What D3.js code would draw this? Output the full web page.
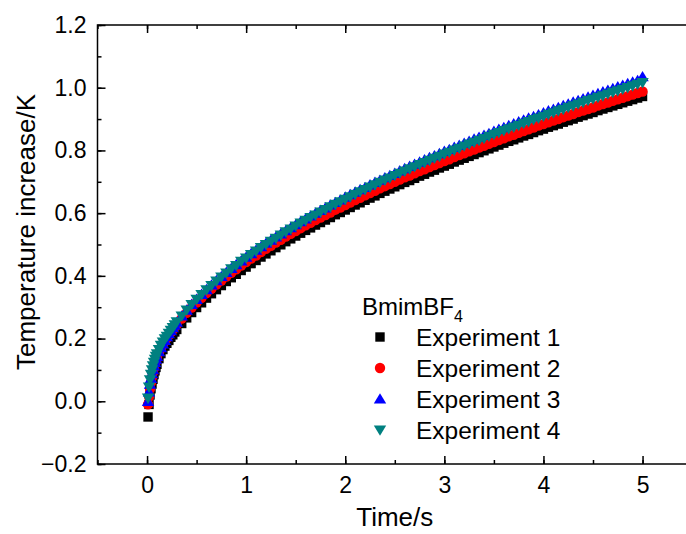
<!DOCTYPE html>
<html>
<head>
<meta charset="utf-8">
<script src="https://cdn.jsdelivr.net/npm/d3@7"></script>
<style>
  body { margin: 0; background: #fff; }
  text { font-family: "Liberation Sans", Arial, sans-serif; fill: #000; }
</style>
</head>
<body>
<div id="chart"></div>
<script>
// time axis (s)
var times = [0.01, 0.02, 0.03, 0.04, 0.05, 0.06, 0.07, 0.08, 0.09, 0.10,
  0.12, 0.14, 0.16, 0.18, 0.20, 0.22, 0.24, 0.26, 0.28, 0.30,
  0.35, 0.40, 0.45, 0.50, 0.55, 0.60, 0.65, 0.70, 0.75, 0.80, 0.85, 0.90, 0.95, 1.00,
  1.05, 1.10, 1.15, 1.20, 1.25, 1.30, 1.35, 1.40, 1.45, 1.50, 1.55, 1.60, 1.65, 1.70, 1.75, 1.80, 1.85, 1.90, 1.95, 2.00,
  2.05, 2.10, 2.15, 2.20, 2.25, 2.30, 2.35, 2.40, 2.45, 2.50, 2.55, 2.60, 2.65, 2.70, 2.75, 2.80, 2.85, 2.90, 2.95, 3.00,
  3.05, 3.10, 3.15, 3.20, 3.25, 3.30, 3.35, 3.40, 3.45, 3.50, 3.55, 3.60, 3.65, 3.70, 3.75, 3.80, 3.85, 3.90, 3.95, 4.00,
  4.05, 4.10, 4.15, 4.20, 4.25, 4.30, 4.35, 4.40, 4.45, 4.50, 4.55, 4.60, 4.65, 4.70, 4.75, 4.80, 4.85, 4.90, 4.95, 5.00];

var exp1 = [-0.05, -0.01, 0.02, 0.04, 0.055, 0.07, 0.085, 0.097, 0.108, 0.118,
  0.136, 0.152, 0.165, 0.176, 0.185, 0.194, 0.204, 0.212, 0.221, 0.229,
  0.248, 0.266, 0.283, 0.299, 0.314, 0.329, 0.343, 0.356, 0.369, 0.382, 0.394, 0.405, 0.417, 0.428,
  0.439, 0.449, 0.460, 0.470, 0.480, 0.490, 0.499, 0.509, 0.518, 0.527, 0.536, 0.545, 0.553, 0.562, 0.570, 0.578, 0.586, 0.595, 0.602, 0.610,
  0.618, 0.626, 0.633, 0.641, 0.648, 0.655, 0.663, 0.670, 0.677, 0.684, 0.691, 0.698, 0.704, 0.711, 0.718, 0.724, 0.731, 0.737, 0.744, 0.750,
  0.756, 0.763, 0.769, 0.775, 0.781, 0.787, 0.793, 0.799, 0.805, 0.811, 0.817, 0.823, 0.829, 0.834, 0.840, 0.846, 0.851, 0.857, 0.863, 0.868,
  0.874, 0.879, 0.884, 0.890, 0.895, 0.900, 0.906, 0.911, 0.916, 0.921, 0.927, 0.932, 0.937, 0.942, 0.947, 0.952, 0.957, 0.962, 0.967, 0.972];

var exp2 = [-0.01, 0.015, 0.04, 0.06, 0.077, 0.092, 0.105, 0.117, 0.128, 0.138,
  0.156, 0.17, 0.182, 0.191, 0.201, 0.210, 0.220, 0.228, 0.237, 0.245,
  0.264, 0.282, 0.299, 0.315, 0.330, 0.345, 0.359, 0.372, 0.385, 0.398, 0.410, 0.421, 0.433, 0.444,
  0.455, 0.465, 0.476, 0.486, 0.496, 0.506, 0.515, 0.525, 0.534, 0.543, 0.552, 0.561, 0.569, 0.578, 0.586, 0.594, 0.602, 0.611, 0.618, 0.626,
  0.634, 0.642, 0.649, 0.657, 0.664, 0.671, 0.679, 0.686, 0.693, 0.700, 0.707, 0.714, 0.720, 0.727, 0.734, 0.740, 0.747, 0.753, 0.760, 0.766,
  0.772, 0.779, 0.785, 0.791, 0.797, 0.803, 0.809, 0.815, 0.821, 0.827, 0.833, 0.839, 0.845, 0.850, 0.856, 0.862, 0.867, 0.873, 0.879, 0.884,
  0.890, 0.895, 0.900, 0.906, 0.911, 0.916, 0.922, 0.927, 0.932, 0.937, 0.943, 0.948, 0.953, 0.958, 0.963, 0.968, 0.973, 0.978, 0.983, 0.988];

var exp3 = [0.0, 0.03, 0.055, 0.073, 0.088, 0.101, 0.113, 0.124, 0.134, 0.143,
  0.158, 0.171, 0.183, 0.194, 0.206, 0.216, 0.225, 0.235, 0.243, 0.252,
  0.272, 0.291, 0.309, 0.325, 0.341, 0.356, 0.371, 0.385, 0.398, 0.411, 0.424, 0.436, 0.448, 0.460,
  0.471, 0.482, 0.493, 0.504, 0.514, 0.524, 0.534, 0.544, 0.554, 0.563, 0.573, 0.582, 0.591, 0.600, 0.609, 0.617, 0.626, 0.634, 0.642, 0.651,
  0.659, 0.667, 0.675, 0.682, 0.690, 0.698, 0.705, 0.713, 0.720, 0.727, 0.735, 0.742, 0.749, 0.756, 0.763, 0.770, 0.777, 0.783, 0.790, 0.797,
  0.803, 0.810, 0.816, 0.823, 0.829, 0.836, 0.842, 0.848, 0.854, 0.861, 0.867, 0.873, 0.879, 0.885, 0.891, 0.897, 0.903, 0.908, 0.914, 0.920,
  0.926, 0.931, 0.937, 0.943, 0.948, 0.954, 0.959, 0.965, 0.970, 0.976, 0.981, 0.987, 0.992, 0.997, 1.003, 1.008, 1.013, 1.018, 1.023, 1.035];

var exp4 = [0.01, 0.045, 0.068, 0.086, 0.1, 0.113, 0.124, 0.134, 0.143, 0.151,
  0.165, 0.178, 0.189, 0.199, 0.207, 0.217, 0.226, 0.235, 0.244, 0.253,
  0.272, 0.291, 0.308, 0.325, 0.340, 0.355, 0.369, 0.383, 0.396, 0.409, 0.422, 0.433, 0.446, 0.457,
  0.468, 0.479, 0.490, 0.500, 0.510, 0.520, 0.530, 0.540, 0.549, 0.559, 0.568, 0.577, 0.586, 0.594, 0.603, 0.611, 0.620, 0.628, 0.636, 0.644,
  0.652, 0.660, 0.668, 0.675, 0.683, 0.690, 0.698, 0.705, 0.712, 0.720, 0.727, 0.734, 0.741, 0.748, 0.755, 0.761, 0.768, 0.775, 0.781, 0.788,
  0.794, 0.801, 0.807, 0.814, 0.820, 0.826, 0.832, 0.838, 0.845, 0.851, 0.857, 0.863, 0.869, 0.874, 0.880, 0.886, 0.892, 0.898, 0.903, 0.909,
  0.915, 0.920, 0.926, 0.931, 0.937, 0.942, 0.948, 0.953, 0.959, 0.964, 0.969, 0.974, 0.980, 0.985, 0.990, 0.995, 1.000, 1.006, 1.011, 1.016];

var seriesNames = ["Experiment 1", "Experiment 2", "Experiment 3", "Experiment 4"];
var seriesColors = ["#000000", "#ff0000", "#0000ff", "#008080"];
var seriesSymbols = ["square", "circle", "triangleUp", "triangleDown"];

var xTicks = [0, 1, 2, 3, 4, 5];
var yTicks = [-0.2, 0.0, 0.2, 0.4, 0.6, 0.8, 1.0, 1.2];

var W = 686, H = 534;
var mLeft = 97.5, mTop = 25, mBottom = 464;

var x = d3.scaleLinear().domain([-0.5, 5.5]).range([mLeft, mLeft + 6 * 99.1]);
var y = d3.scaleLinear().domain([-0.2, 1.2]).range([mBottom, mTop]);

var svg = d3.select("#chart").append("svg")
  .attr("width", W)
  .attr("height", H);

// markers
function symbolPath(kind) {
  if (kind === "square") return "M-4.7,-4.7H4.7V4.7H-4.7Z";
  if (kind === "circle") return d3.symbol(d3.symbolCircle, 85)();
  if (kind === "triangleUp") return "M0,-5.8L6.2,4.6L-6.2,4.6Z";
  return "M0,5.8L6.2,-4.6L-6.2,-4.6Z";
}

var allSeries = [exp1, exp2, exp3, exp4];

var plot = svg.append("g");
allSeries.forEach(function (vals, i) {
  plot.selectAll(".s" + i)
    .data(vals)
    .enter()
    .append("path")
    .attr("class", "s" + i)
    .attr("d", symbolPath(seriesSymbols[i]))
    .attr("fill", seriesColors[i])
    .attr("transform", function (d, j) { return "translate(" + x(times[j]) + "," + y(d) + ")"; });
});

// frame + axes
var axisStyle = function (g) {
  g.select(".domain").remove();
  g.selectAll("line").attr("stroke", "#000").attr("stroke-width", 1.5);
  g.selectAll("text").style("font-size", "23px").style("font-family", "Liberation Sans, Arial, sans-serif");
};

var xMinor = d3.range(-0.5, 5.6, 0.5);
var yMinor = d3.range(-0.2, 1.21, 0.1);

svg.append("g").attr("transform", "translate(0," + mBottom + ")")
  .call(d3.axisBottom(x).tickValues(xMinor).tickSize(-4).tickFormat(""))
  .call(axisStyle);
svg.append("g").attr("transform", "translate(0," + mBottom + ")")
  .call(d3.axisBottom(x).tickValues(xTicks).tickSize(-8).tickPadding(13).tickFormat(d3.format("d")))
  .call(axisStyle);
svg.append("g").attr("transform", "translate(0," + mTop + ")")
  .call(d3.axisTop(x).tickValues(xMinor).tickSize(-4).tickFormat(""))
  .call(axisStyle);
svg.append("g").attr("transform", "translate(0," + mTop + ")")
  .call(d3.axisTop(x).tickValues(xTicks).tickSize(-8).tickFormat(""))
  .call(axisStyle);

svg.append("g").attr("transform", "translate(" + mLeft + ",0)")
  .call(d3.axisLeft(y).tickValues(yMinor).tickSize(-4).tickFormat(""))
  .call(axisStyle);
svg.append("g").attr("transform", "translate(" + mLeft + ",0)")
  .call(d3.axisLeft(y).tickValues(yTicks).tickSize(-8).tickPadding(11).tickFormat(d3.format(".1f")))
  .call(axisStyle);

svg.append("rect")
  .attr("x", mLeft).attr("y", mTop)
  .attr("width", x(5.5) - mLeft).attr("height", mBottom - mTop)
  .attr("fill", "none").attr("stroke", "#000").attr("stroke-width", 1.5);

// axis titles
svg.append("text")
  .attr("x", x(2.5)).attr("y", 526)
  .attr("text-anchor", "middle")
  .style("font-size", "26px")
  .text("Time/s");

svg.append("text")
  .attr("transform", "translate(35,232) rotate(-90)")
  .attr("text-anchor", "middle")
  .style("font-size", "26px")
  .text("Temperature increase/K");

// legend
var lg = svg.append("g").attr("transform", "translate(362,0)");
var title = lg.append("text").attr("x", 0).attr("y", 315).style("font-size", "24px");
title.append("tspan").text("BmimBF");
title.append("tspan").attr("dy", 7).style("font-size", "16px").text("4");

seriesNames.forEach(function (name, i) {
  var cy = 337 + i * 31;
  lg.append("path")
    .attr("d", symbolPath(seriesSymbols[i]))
    .attr("fill", seriesColors[i])
    .attr("transform", "translate(18," + cy + ")");
  lg.append("text")
    .attr("x", 54).attr("y", cy + 9)
    .style("font-size", "24.5px")
    .text(name);
});
</script>
</body>
</html>
